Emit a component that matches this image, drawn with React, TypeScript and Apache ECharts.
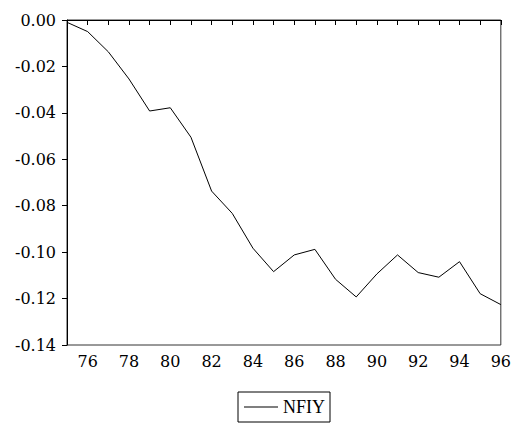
import React, { useEffect, useRef } from "react";
import * as echarts from "echarts";

const years = [75, 76, 77, 78, 79, 80, 81, 82, 83, 84, 85, 86, 87, 88, 89, 90, 91, 92, 93, 94, 95, 96];
const nfiy = [-0.001, -0.005, -0.0137, -0.0254, -0.0392, -0.0378, -0.0505, -0.0737, -0.0833, -0.0983, -0.1084, -0.1012, -0.0988, -0.1117, -0.1193, -0.1094, -0.1012, -0.1088, -0.1108, -0.1041, -0.1179, -0.1226];
const seriesName = "NFIY";

export default function App() {
  const ref = useRef<HTMLDivElement>(null);
  useEffect(() => {
    if (!ref.current) return;
    const chart = echarts.init(ref.current, undefined, { renderer: "svg" });
    chart.setOption({
      animation: false,
      backgroundColor: "#fff",
      grid: { left: 67, right: 13, top: 20, bottom: 80, show: true, borderColor: "#333", borderWidth: 1 },
      xAxis: {
        type: "value",
        min: 75,
        max: 96,
        interval: 1,
        axisLine: { lineStyle: { color: "#000", width: 1 } },
        axisTick: { show: true, length: 5, lineStyle: { color: "#000" } },
        splitLine: { show: false },
        axisLabel: {
          fontFamily: "DejaVu Serif",
          fontSize: 16,
          color: "#000",
          margin: 8,
          formatter: (v: number) => (Math.round(v) % 2 === 0 ? String(Math.round(v)) : ""),
        },
      },
      yAxis: {
        type: "value",
        min: -0.14,
        max: 0,
        interval: 0.02,
        axisLine: { show: true, lineStyle: { color: "#000", width: 1 } },
        axisTick: { show: true, length: 5, lineStyle: { color: "#000" } },
        splitLine: { show: false },
        axisLabel: {
          fontFamily: "DejaVu Serif",
          fontSize: 16,
          color: "#000",
          margin: 11,
          formatter: (v: number) => v.toFixed(2),
        },
      },
      legend: {
        left: 238,
        top: 392,
        padding: [6, 5, 6, 6],
        borderColor: "#000",
        borderWidth: 1,
        icon: "rect",
        itemWidth: 34,
        itemHeight: 1,
        itemGap: 6,
        textStyle: { fontFamily: "Liberation Serif", fontSize: 18, color: "#000" },
        data: [{ name: seriesName, itemStyle: { color: "#000" } }],
      },
      series: [
        {
          name: seriesName,
          type: "line",
          data: years.map((y, i) => [y, nfiy[i]]),
          symbol: "none",
          lineStyle: { color: "#000", width: 1 },
          itemStyle: { color: "#000" },
        },
      ],
    });
    return () => chart.dispose();
  }, []);
  return <div ref={ref} style={{ width: 514, height: 425, position: "absolute", left: 0, top: 0 }} />;
}
